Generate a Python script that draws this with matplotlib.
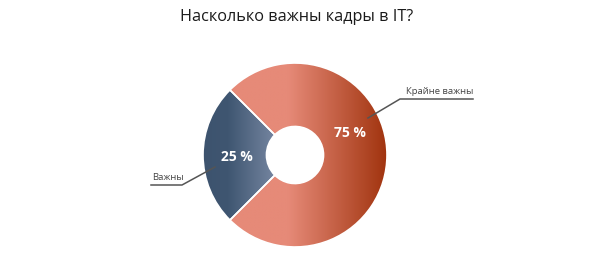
import numpy as np
import matplotlib.pyplot as plt
from matplotlib.colors import LinearSegmentedColormap

plt.rcParams['font.family'] = ['Open Sans', 'DejaVu Sans']

title = "Насколько важны кадры в IT?"
labels = ["Важны", "Крайне важны"]
shares = [25, 75]

W, H = 591, 259
fig = plt.figure(figsize=(W / 100, H / 100), dpi=100)
ax = fig.add_axes([0, 0, 1, 1])

cx, cy, R = 295, H - 155, 92
wedges, _ = ax.pie(shares, startangle=135, radius=R, center=(cx, cy),
                   wedgeprops=dict(width=R * 0.69, edgecolor="white", linewidth=1.2),
                   frame=False)

# horizontal gradients clipped to each wedge
grads = [
    (["#3d536e", "#3f5671", "#7585a0", "#7585a0"],
     [0, (228 - (cx - R)) / (2 * R), (275 - (cx - R)) / (2 * R), 1]),
    (["#e68a78", "#e68a78", "#a1340f"], [0, (288 - (cx - R)) / (2 * R), 1]),
]
for w, (cols, stops) in zip(wedges, grads):
    cmap = LinearSegmentedColormap.from_list("g", list(zip(stops, cols)))
    img = ax.imshow(np.tile(np.linspace(0, 1, 400), (2, 1)), cmap=cmap,
                    extent=(cx - R, cx + R, cy - R, cy + R), aspect="auto",
                    interpolation="bilinear", zorder=w.get_zorder())
    img.set_clip_path(w)
    w.set_facecolor("none")
    w.set_zorder(w.get_zorder() + 1)

# percentage labels
ax.text(237, H - 157, f"{shares[0]} %", color="white", fontsize=10,
        fontweight="bold", ha="center", va="center", zorder=5)
ax.text(350, H - 133, f"{shares[1]} %", color="white", fontsize=10,
        fontweight="bold", ha="center", va="center", zorder=5)

# leader lines and category labels
lc = "#555555"
ax.plot([368, 400, 473], [H - 118, H - 99, H - 99], color=lc, lw=1.1, zorder=5)
ax.text(473, H - 96, labels[1], fontsize=6.8, color="#444444", ha="right", va="bottom")
ax.plot([215, 182, 151], [H - 167, H - 185, H - 185], color=lc, lw=1.1, zorder=5)
ax.text(152, H - 182, labels[0], fontsize=6.8, color="#444444", ha="left", va="bottom")

ax.text(W / 2 + 1, H - 17, title, fontsize=11.7, color="#1a1a1a", ha="center", va="center")

ax.set_xlim(0, W)
ax.set_ylim(0, H)
ax.set_aspect("equal")
ax.axis("off")

fig.savefig("out.png", dpi=100)
